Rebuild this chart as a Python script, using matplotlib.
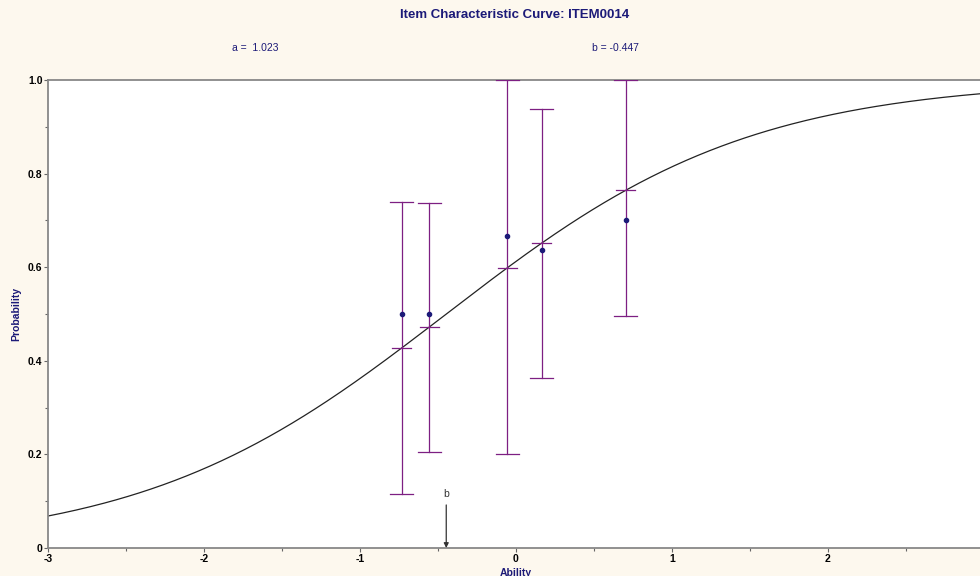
import numpy as np
import matplotlib
matplotlib.use("Agg")
import matplotlib.pyplot as plt

plt.rcParams['font.family'] = ['Liberation Sans', 'DejaVu Sans']
plt.rcParams['axes.unicode_minus'] = False

# item parameters (2PL, D = 1)
a_param = 1.023
b_param = -0.447

# observed group points
ability = [-0.733, -0.556, -0.056, 0.165, 0.703]
observed = [0.500, 0.500, 0.666, 0.636, 0.700]
ci_low = [0.115, 0.205, 0.200, 0.363, 0.495]
ci_high = [0.740, 0.737, 1.000, 0.938, 1.000]

x_ticks = [-3, -2, -1, 0, 1, 2]
y_ticks = [0, 0.2, 0.4, 0.6, 0.8, 1.0]
y_tick_labels = ['0', '0.2', '0.4', '0.6', '0.8', '1.0']

navy = '#1c1a78'
purple = '#7d1f82'
bg = '#fdf8ee'


def icc(theta):
    return 1.0 / (1.0 + np.exp(-a_param * (np.asarray(theta) - b_param)))


fig = plt.figure(figsize=(9.8, 5.76), dpi=100, facecolor=bg)
ax = fig.add_axes([0.049, 0.0486, 0.955, 0.8124])
ax.set_facecolor('white')

theta = np.linspace(-3, 3, 400)
ax.plot(theta, icc(theta), color='#222222', lw=0.9, zorder=2)

# error bars with caps and a tick at the model value
cap = 0.075
mid = 0.06
for x, lo, hi in zip(ability, ci_low, ci_high):
    ax.plot([x, x], [lo, hi], color=purple, lw=0.9, zorder=3)
    ax.plot([x - cap, x + cap], [lo, lo], color=purple, lw=0.9, zorder=3)
    ax.plot([x - cap, x + cap], [hi, hi], color=purple, lw=0.9, zorder=3)
    p = icc(x)
    ax.plot([x - mid, x + mid], [p, p], color=purple, lw=0.9, zorder=3)
ax.scatter(ability, observed, s=9, color=navy, zorder=4)

# location of b
ax.annotate('', xy=(b_param, 0.0), xytext=(b_param, 0.092),
            arrowprops=dict(arrowstyle='-|>', color='#333333', lw=0.9,
                            mutation_scale=7, shrinkA=0, shrinkB=0))
ax.text(b_param, 0.105, 'b', ha='center', va='bottom', fontsize=7.5, color='#333333')

ax.set_xlim(-3, 3)
ax.set_ylim(0, 1.0)
ax.set_xticks(x_ticks)
ax.set_xticks(np.arange(-2.5, 3, 1.0), minor=True)
ax.set_yticks(y_ticks)
ax.set_yticklabels(y_tick_labels)
ax.set_yticks(np.arange(0.1, 1.0, 0.2), minor=True)
for lbl in ax.get_xticklabels() + ax.get_yticklabels():
    lbl.set_fontweight('bold')
    lbl.set_fontsize(7.5)
ax.tick_params(axis='both', which='major', length=3, width=0.8, color='#666666', pad=1)
ax.tick_params(axis='both', which='minor', length=2, width=0.8, color='#666666')

for side in ['left', 'top', 'bottom']:
    ax.spines[side].set_color('#888888')
    ax.spines[side].set_linewidth(1.3)
ax.spines['right'].set_visible(False)

ax.set_ylabel('Probability', color=navy, fontweight='bold', fontsize=7.5, labelpad=5)
ax.set_xlabel('Ability', color=navy, fontweight='bold', fontsize=7.5, labelpad=3)

fig.text(0.525, 0.974, 'Item Characteristic Curve: ITEM0014', ha='center', va='center',
         color=navy, fontweight='bold', fontsize=9.5)
fig.text(0.26, 0.917, 'a =  %.3f' % a_param, ha='center', va='center', color=navy, fontsize=7.5)
fig.text(0.628, 0.917, 'b = %.3f' % b_param, ha='center', va='center', color=navy, fontsize=7.5)

fig.savefig('out.png', dpi=100, facecolor=bg)
